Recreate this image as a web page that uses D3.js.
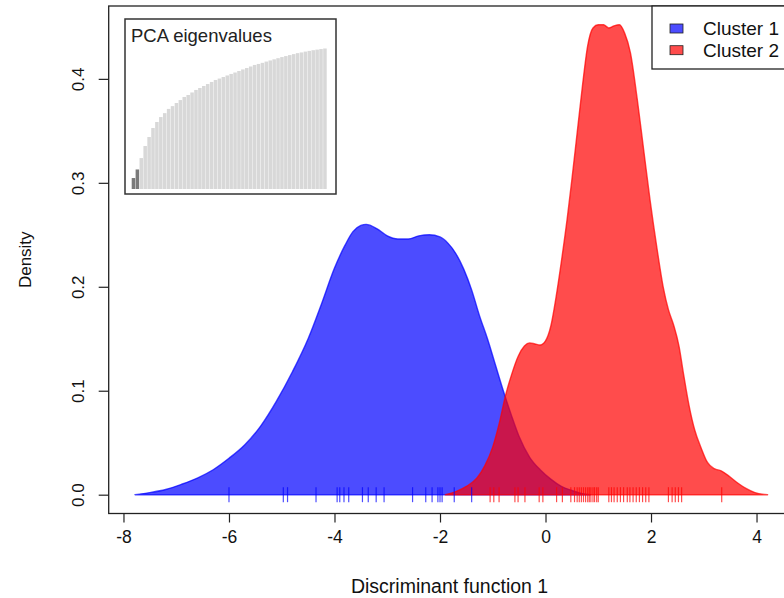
<!DOCTYPE html>
<html><head><meta charset="utf-8">
<script src="https://cdn.jsdelivr.net/npm/d3@7"></script>
<style>
html,body{margin:0;padding:0;background:#fff;}
svg{display:block;font-family:"Liberation Sans",Arial,Helvetica,sans-serif;}
</style></head>
<body>
<script>
// ---- data ----
const cluster1Density = [
  [-7.78,0],[-7.5,0.002],[-7.2,0.005],[-6.9,0.01],[-6.6,0.016],[-6.3,0.024],[-6.0,0.035],
  [-5.7,0.048],[-5.4,0.066],[-5.1,0.09],[-4.8,0.118],[-4.5,0.15],[-4.25,0.183],[-4.0,0.218],
  [-3.8,0.240],[-3.65,0.253],[-3.5,0.259],[-3.4,0.260],[-3.2,0.256],[-3.0,0.249],[-2.8,0.246],
  [-2.6,0.246],[-2.4,0.249],[-2.2,0.250],[-2.0,0.248],[-1.85,0.242],[-1.7,0.232],[-1.55,0.217],
  [-1.4,0.197],[-1.25,0.172],[-1.1,0.150],[-0.95,0.125],[-0.8,0.100],[-0.65,0.077],[-0.5,0.056],
  [-0.3,0.036],[-0.1,0.024],[0.1,0.015],[0.3,0.008],[0.5,0.004],[0.7,0.001],[0.85,0]
];
const cluster2Density = [
  [-1.9,0],[-1.7,0.003],[-1.5,0.008],[-1.3,0.016],[-1.15,0.028],[-1.0,0.046],[-0.88,0.068],
  [-0.76,0.095],[-0.64,0.116],[-0.52,0.133],[-0.4,0.143],[-0.3,0.146],[-0.2,0.145],[-0.1,0.144],
  [0.0,0.148],[0.1,0.162],[0.2,0.190],[0.3,0.224],[0.41,0.265],[0.5,0.303],[0.6,0.348],[0.7,0.393],
  [0.8,0.432],[0.9,0.449],[1.0,0.452],[1.1,0.452],[1.2,0.449],[1.3,0.451],[1.4,0.452],[1.5,0.444],
  [1.61,0.425],[1.74,0.38],[1.86,0.332],[1.98,0.284],[2.11,0.238],[2.23,0.200],[2.33,0.178],[2.43,0.163],
  [2.53,0.143],[2.62,0.115],[2.72,0.086],[2.83,0.062],[2.95,0.045],[3.07,0.031],[3.2,0.025],
  [3.33,0.023],[3.5,0.017],[3.65,0.011],[3.8,0.006],[3.97,0.002],[4.21,0]
];
const cluster1Points = [-6.0,-4.97,-4.89,-4.35,-3.95,-3.90,-3.82,-3.73,-3.47,-3.36,-3.21,-3.06,
  -2.52,-2.27,-2.15,-2.04,-2.0,-1.96,-1.73,-1.40];
const cluster2Points = [-1.05,-0.98,-0.88,-0.58,-0.52,-0.39,-0.12,-0.05,0.21,0.32,0.48,0.55,0.6,0.64,
  0.68,0.72,0.76,0.8,0.83,0.86,0.9,0.93,0.97,1.0,1.2,1.25,1.3,1.36,1.42,1.48,1.55,1.6,1.66,1.72,1.78,
  1.84,1.9,1.96,2.33,2.4,2.46,2.52,2.58,3.34];
const eigenvalues = [7.8,13.9,22,30.6,37,43.4,47.7,51.2,54,57,59,61.2,63.3,65.5,66.9,68.7,70.5,71.9,
  73.3,74.7,76.2,77.6,78.6,79.7,80.8,81.9,82.9,84,85.1,86.1,87.2,88.3,89,89.8,90.7,91.5,92.3,93.1,
  93.9,94.6,95.3,96,96.7,97.2,97.8,98.3,98.8,99.2,99.6,100];
const retainedPCs = 2;
const xTicks = [-8,-6,-4,-2,0,2,4];
const yTicks = [0.0,0.1,0.2,0.3,0.4];
const legendLabels = ["Cluster 1","Cluster 2"];
const seriesColors = ["rgba(0,0,255,0.7)","rgba(255,0,0,0.7)"];

// ---- layout ----
const W = 784, H = 598;
const L = 108.7, R = 792.4, T = 6, B = 513.5;
const svg = d3.select("body").append("svg").attr("width",W).attr("height",H);
svg.append("rect").attr("width",W).attr("height",H).attr("fill","#fff");

const x = d3.scaleLinear().domain([-8.28,4.68]).range([L,R]);
const y = d3.scaleLinear().domain([-0.0181,0.4701]).range([B,T]);

const line = d3.line().x(d=>x(d[0])).y(d=>y(d[1])).curve(d3.curveMonotoneX);
function closedPath(data){
  return line(data) + "L" + x(data[0][0]) + "," + y(0) + "Z";
}
[cluster1Density, cluster2Density].forEach((dd,i)=>{
  svg.append("path").attr("d",closedPath(dd))
    .attr("fill",seriesColors[i]).attr("stroke",seriesColors[i]).attr("stroke-width",1.4)
    .attr("stroke-linejoin","round");
});

// rug
[cluster1Points, cluster2Points].forEach((pts,i)=>{
  svg.append("g").selectAll("line").data(pts).join("line")
    .attr("x1",d=>x(d)).attr("x2",d=>x(d))
    .attr("y1",y(0)-7.5).attr("y2",y(0)+7.5)
    .attr("stroke",seriesColors[i]).attr("stroke-width",1.2);
});

// frame
svg.append("rect").attr("x",L).attr("y",T).attr("width",R-L).attr("height",B-T)
  .attr("fill","none").attr("stroke","#222").attr("stroke-width",1.3);

// x axis
const xa = svg.append("g").attr("transform",`translate(0,${B})`)
  .call(d3.axisBottom(x).tickValues(xTicks).tickSize(9).tickPadding(8).tickFormat(d=>d3.format("d")(d).replace("−","-")));
xa.select(".domain").remove();
xa.selectAll("line").attr("stroke","#222").attr("stroke-width",1.2);
xa.selectAll("text").attr("font-size",17.5).attr("fill","#111").attr("font-family","Liberation Sans, Arial");

// y axis
const ya = svg.append("g").attr("transform",`translate(${L},0)`)
  .call(d3.axisLeft(y).tickValues(yTicks).tickSize(10).tickFormat(d3.format(".1f")));
ya.select(".domain").remove();
ya.selectAll("line").attr("stroke","#222").attr("stroke-width",1.2);
ya.selectAll("text").attr("font-size",17).attr("fill","#111").attr("font-family","Liberation Sans, Arial")
  .attr("x",null).attr("dy",null)
  .attr("text-anchor","middle")
  .attr("transform","translate(-31,0) rotate(-90)")
  .attr("dy","0.35em");

// axis titles
svg.append("text").attr("x",(L+R)/2 - 1).attr("y",593).attr("text-anchor","middle")
  .attr("font-size",19.5).attr("fill","#111").text("Discriminant function 1");
svg.append("text").attr("transform",`translate(31,${(T+B)/2}) rotate(-90)`).attr("text-anchor","middle")
  .attr("font-size",17).attr("fill","#111").text("Density");

// legend
const lg = svg.append("g");
lg.append("rect").attr("x",652).attr("y",T).attr("width",R-652).attr("height",69-T)
  .attr("fill","#fff").attr("stroke","#222").attr("stroke-width",1.3);
legendLabels.forEach((lab,i)=>{
  const yy = 28.5 + i*21.7;
  lg.append("rect").attr("x",670).attr("y",yy-4.5).attr("width",13).attr("height",9)
    .attr("fill",seriesColors[i]).attr("stroke","#222").attr("stroke-width",0.8);
  lg.append("text").attr("x",703).attr("y",yy).attr("dy","0.35em")
    .attr("font-size",19).attr("fill","#111").text(lab);
});

// inset
const ix0 = 125, ix1 = 336, iy0 = 19, iy1 = 194;
svg.append("rect").attr("x",ix0).attr("y",iy0).attr("width",ix1-ix0).attr("height",iy1-iy0)
  .attr("fill","#fff").attr("stroke","#333").attr("stroke-width",1.5);
svg.append("text").attr("x",131).attr("y",42).attr("font-size",18.5).attr("fill","#222").text("PCA eigenvalues");
const bx = d3.scaleBand().domain(d3.range(eigenvalues.length)).range([131.7,326.7]).paddingInner(0.1);
const by = d3.scaleLinear().domain([0,d3.max(eigenvalues)]).range([189,48.5]);
svg.append("g").selectAll("rect").data(eigenvalues).join("rect")
  .attr("x",(d,i)=>bx(i)).attr("width",bx.bandwidth())
  .attr("y",d=>by(d)).attr("height",d=>by(0)-by(d))
  .attr("fill",(d,i)=>i<retainedPCs?"#7a7a7a":"#d8d8d8");
</script>
</body></html>
